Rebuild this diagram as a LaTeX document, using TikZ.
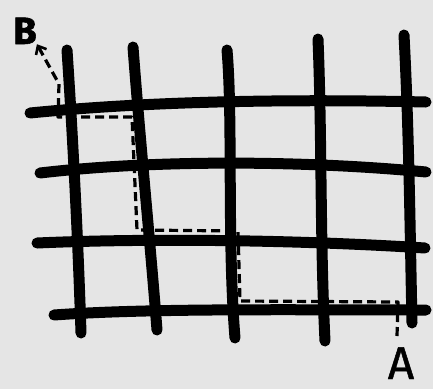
\documentclass[tikz,border=0pt]{standalone}
\usepackage{fontspec}
\setmainfont{Fira Sans}
\usetikzlibrary{arrows.meta}
\definecolor{paper}{RGB}{229,229,229}
\begin{document}
\begin{tikzpicture}[x=1pt,y=-1pt,
  gridline/.style={line width=11pt,line cap=round,black},
  route/.style={line width=3.2pt,dash pattern=on 9pt off 5pt,black,line join=round},
  letter/.style={inner sep=0pt,black}]
\fill[paper] (0,0) rectangle (433,389);
\useasboundingbox (0,0) rectangle (433,389);
% vertical lines
\draw[gridline] (67,50) .. controls (73,140) and (78,240) .. (81,333);
\draw[gridline] (133,47) .. controls (140,140) and (150,240) .. (157,330);
\draw[gridline] (227,50) .. controls (233,120) and (227,240) .. (235,338);
\draw[gridline] (318,39) .. controls (322,140) and (320,240) .. (325,341);
\draw[gridline] (404,35) .. controls (409,130) and (410,230) .. (412,323);
% horizontal lines
\draw[gridline] (30,113) .. controls (120,104) and (250,98) .. (426,102);
\draw[gridline] (40,173) .. controls (150,160) and (300,160) .. (426,172);
\draw[gridline] (37,243) .. controls (150,238) and (300,240) .. (425,248);
\draw[gridline] (54,315) .. controls (150,308) and (300,310) .. (426,310);
% labels
\node[letter,anchor=base,font=\fontsize{38}{38}\selectfont\bfseries\addfontfeatures{FakeBold=1.5}] (B) at (25,44) {B};
\node[letter,anchor=base,font=\fontsize{46}{46}\selectfont\addfontfeatures{FakeBold=1}] (A) at (401,379) {A};
% route
\coordinate (start) at (397,336);
\draw[route,-{Straight Barb[length=7pt,width=12pt,line width=2.6pt]}]
  (start) -- (398,302) -- (240,301) -- (238,231) -- (137,230)
  -- (132,117) -- (58,117) -- (59,84) -- (B.south east);
\end{tikzpicture}
\end{document}
